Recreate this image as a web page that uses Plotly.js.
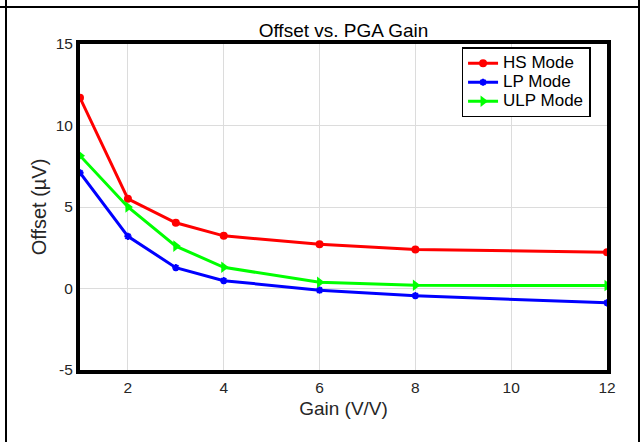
<!DOCTYPE html>
<html>
<head>
<meta charset="utf-8">
<script src="https://cdn.plot.ly/plotly-3.0.1.min.js"></script>
<style>
  html, body { margin: 0; padding: 0; background: #fff; }
  #wrap { position: relative; width: 642px; height: 442px; overflow: hidden; }
  #chart { position: absolute; left: 0; top: 0; width: 642px; height: 442px; }
  .frame { position: absolute; background: #000; }
</style>
</head>
<body>
<div id="wrap">
  <div id="chart"></div>
  <div class="frame" style="left:0; top:6px; width:640px; height:2px;"></div>
  <div class="frame" style="left:5px; top:0; width:2px; height:442px;"></div>
  <div class="frame" style="left:638px; top:0; width:2px; height:442px;"></div>
</div>
<script>
const gain = [1, 2, 3, 4, 6, 8, 12];
const hsMode = [11.7, 5.5, 4.03, 3.23, 2.72, 2.4, 2.22];
const lpMode = [7.1, 3.2, 1.28, 0.48, -0.1, -0.44, -0.88];
const ulpMode = [8.15, 5.0, 2.6, 1.3, 0.38, 0.2, 0.18];
const seriesNames = ['HS Mode', 'LP Mode', 'ULP Mode'];
const xTicks = [2, 4, 6, 8, 10, 12];
const yTicks = [-5, 0, 5, 10, 15];

const fontFam = 'Liberation Sans, Arial, sans-serif';
const legName = s => '<span style="font-size:17px">' + s + '</span>';
const traces = [
  { x: gain, y: hsMode, name: legName(seriesNames[0]), mode: 'lines+markers',
    line: { color: '#ff0000', width: 3 }, marker: { symbol: 'circle', size: 8, color: '#ff0000' } },
  { x: gain, y: lpMode, name: legName(seriesNames[1]), mode: 'lines+markers',
    line: { color: '#0000ff', width: 3 }, marker: { symbol: 'asterisk', size: 6, color: '#0000ff', line: { color: '#0000ff', width: 2 } } },
  { x: gain, y: ulpMode, name: legName(seriesNames[2]), mode: 'lines+markers',
    line: { color: '#00ff00', width: 3 }, marker: { symbol: 'triangle-right', size: 10, color: '#00ff00' } }
];

const layout = {
  width: 642, height: 442,
  margin: { l: 80, r: 35, t: 44, b: 72 },
  paper_bgcolor: '#ffffff', plot_bgcolor: '#ffffff',
  font: { family: fontFam, color: '#262626', size: 15 },
  title: { text: 'Offset vs. PGA Gain', font: { family: fontFam, size: 19, color: '#000' },
           x: 0.5, xref: 'paper', xanchor: 'center', y: 1 - 30 / 442, yref: 'container', yanchor: 'middle' },
  xaxis: {
    range: [1, 12], tickvals: xTicks, ticktext: xTicks.map(String),
    showgrid: true, gridcolor: '#dcdcdc', gridwidth: 1, zeroline: false,
    showline: true, linecolor: '#000', linewidth: 4, mirror: true, ticks: '',
    tickfont: { size: 15.5, color: '#262626' },
    title: { text: 'Gain (V/V)', font: { size: 19, color: '#262626' }, standoff: 8 }
  },
  yaxis: {
    range: [-5, 15], tickvals: yTicks, ticktext: yTicks.map(String),
    showgrid: true, gridcolor: '#dcdcdc', gridwidth: 1, zeroline: false,
    showline: true, linecolor: '#000', linewidth: 4, mirror: true, ticks: '',
    tickfont: { size: 15.5, color: '#262626' },
    title: { text: 'Offset (µV)', font: { size: 20, color: '#262626' }, standoff: 5 }
  },
  legend: {
    x: 0.724, y: 0.99, xanchor: 'left', yanchor: 'top',
    bgcolor: '#ffffff', bordercolor: '#000', borderwidth: 1.5,
    font: { size: 12, color: '#000' }, itemwidth: 30, tracegroupgap: 0
  },
  showlegend: true
};

Plotly.newPlot('chart', traces, layout, { staticPlot: true, displayModeBar: false });
</script>
</body>
</html>
